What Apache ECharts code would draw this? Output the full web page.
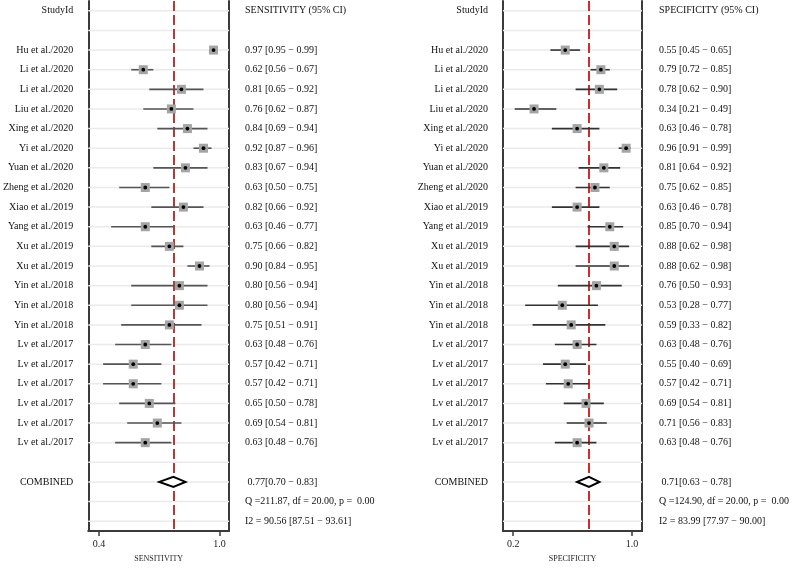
<!DOCTYPE html>
<html>
<head>
<meta charset="utf-8">
<script src="https://cdn.jsdelivr.net/npm/echarts@6/dist/echarts.min.js"></script>
<style>html,body{margin:0;padding:0;background:#fff;}#c{width:792px;height:568px;}</style>
</head>
<body>
<div id="c"></div>
<script>
const studies = ['Hu et al./2020','Li et al./2020','Li et al./2020','Liu et al./2020','Xing et al./2020','Yi et al./2020','Yuan et al./2020','Zheng et al./2020','Xiao et al./2019','Yang et al./2019','Xu et al./2019','Xu et al./2019','Yin et al./2018','Yin et al./2018','Yin et al./2018','Lv et al./2017','Lv et al./2017','Lv et al./2017','Lv et al./2017','Lv et al./2017','Lv et al./2017'];

const sensEst = [0.97,0.62,0.81,0.76,0.84,0.92,0.83,0.63,0.82,0.63,0.75,0.90,0.80,0.80,0.75,0.63,0.57,0.57,0.65,0.69,0.63];
const sensLo  = [0.95,0.56,0.65,0.62,0.69,0.87,0.67,0.50,0.66,0.46,0.66,0.84,0.56,0.56,0.51,0.48,0.42,0.42,0.50,0.54,0.48];
const sensHi  = [0.99,0.67,0.92,0.87,0.94,0.96,0.94,0.75,0.92,0.77,0.82,0.95,0.94,0.94,0.91,0.76,0.71,0.71,0.78,0.81,0.76];
const sensPooled = [0.77,0.70,0.83];
const sensStats = ['Q =211.87, df = 20.00, p =  0.00','I2 = 90.56 [87.51 \u2212 93.61]'];
const sensTicks = [0.4,1.0];
const sensRange = [0.346,1.047];

const specEst = [0.55,0.79,0.78,0.34,0.63,0.96,0.81,0.75,0.63,0.85,0.88,0.88,0.76,0.53,0.59,0.63,0.55,0.57,0.69,0.71,0.63];
const specLo  = [0.45,0.72,0.62,0.21,0.46,0.91,0.64,0.62,0.46,0.70,0.62,0.62,0.50,0.28,0.33,0.48,0.40,0.42,0.54,0.56,0.48];
const specHi  = [0.65,0.85,0.90,0.49,0.78,0.99,0.92,0.85,0.78,0.94,0.98,0.98,0.93,0.77,0.82,0.76,0.69,0.71,0.81,0.83,0.76];
const specPooled = [0.71,0.63,0.78];
const specStats = ['Q =124.90, df = 20.00, p =  0.00','I2 = 83.99 [77.97 \u2212 90.00]'];
const specTicks = [0.2,1.0];
const specRange = [0.131,1.067];

const FONT = "'Liberation Serif','Times New Roman',serif";
const f2 = v => v.toFixed(2);
const ciText = (e,l,h) => f2(e)+' ['+f2(l)+' \u2212 '+f2(h)+']';

const nRows = studies.length + 6;
const rowIdx = Array.from({length:nRows},(_,i)=>String(i));
const combinedRow = studies.length + 3;
const leftLabels = ['StudyId',''].concat(studies,['','COMBINED','','']);
function rightLabels(title, est, lo, hi, pooled, stats){
  return [title,''].concat(est.map((e,i)=>ciText(e,lo[i],hi[i])),
    ['','\u00a0'+f2(pooled[0])+'['+f2(pooled[1])+' \u2212 '+f2(pooled[2])+']', stats[0], stats[1]]);
}
const sensRight = rightLabels('SENSITIVITY (95% CI)', sensEst, sensLo, sensHi, sensPooled, sensStats);
const specRight = rightLabels('SPECIFICITY (95% CI)', specEst, specLo, specHi, specPooled, specStats);

function gridRender(params, api){
  const row = api.value(0);
  const cs = params.coordSys;
  const p = api.coord([0.5, row]);
  return {type:'line', shape:{x1:cs.x, y1:p[1], x2:cs.x+cs.width, y2:p[1]}, style:{stroke:'#eaeaea', lineWidth:1.5}};
}
function makeStudyRender(ciColor){
  return function(params, api){
    const row = api.value(1);
    const c = api.coord([api.value(0), row]);
    const l = api.coord([api.value(2), row]);
    const h = api.coord([api.value(3), row]);
    return {type:'group', children:[
      {type:'line', shape:{x1:l[0],y1:l[1],x2:h[0],y2:h[1]}, style:{stroke:ciColor, lineWidth:1.6}},
      {type:'rect', shape:{x:c[0]-4.5,y:c[1]-4.5,width:9,height:9}, style:{fill:'#a4a4a4'}},
      {type:'circle', shape:{cx:c[0],cy:c[1],r:1.9}, style:{fill:'#000'}}
    ]};
  };
}
function diamondRender(params, api){
  const row = api.value(1);
  const c = api.coord([api.value(0), row]);
  const l = api.coord([api.value(2), row]);
  const h = api.coord([api.value(3), row]);
  return {type:'polygon', shape:{points:[[l[0],c[1]],[c[0],c[1]-5],[h[0],c[1]],[c[0],c[1]+5]]},
    style:{fill:'#fff', stroke:'#000', lineWidth:2}};
}

function panel(idx, est, lo, hi, pooled, ticks, range, rLabels, name, ciColor, refColor, rMargin){
  const xAxis = {type:'value', gridIndex:idx, min:range[0], max:range[1],
    name:name, nameLocation:'middle', nameGap:24,
    nameTextStyle:{fontFamily:FONT, fontSize:8, color:'#222'},
    axisLine:{show:true, lineStyle:{color:'#3a3a3a', width:2}},
    axisTick:{show:true, customValues:ticks, length:5, lineStyle:{color:'#3a3a3a', width:1.5}},
    axisLabel:{customValues:ticks, formatter:v=>v.toFixed(1), margin:8, fontFamily:FONT, fontSize:10, color:'#222'},
    splitLine:{show:false}};
  const yLeft = {type:'category', gridIndex:idx, data:rowIdx, inverse:true, position:'left',
    axisLine:{show:true, lineStyle:{color:'#3a3a3a', width:2}}, axisTick:{show:false},
    axisLabel:{interval:0, margin:15, fontFamily:FONT, fontSize:10, color:'#111', formatter:(v,i)=>leftLabels[i]},
    splitLine:{show:false}};
  const yRight = {type:'category', gridIndex:idx, data:rowIdx, inverse:true, position:'right',
    axisLine:{show:true, lineStyle:{color:'#3a3a3a', width:2}}, axisTick:{show:false},
    axisLabel:{interval:0, margin:rMargin, fontFamily:FONT, fontSize:10, color:'#111', formatter:(v,i)=>rLabels[i]},
    splitLine:{show:false}};
  const studyData = est.map((e,i)=>[e, i+2, lo[i], hi[i]]);
  const series = [
    {type:'custom', xAxisIndex:idx, yAxisIndex:idx*2, renderItem:gridRender, data:rowIdx.map(r=>[+r]), encode:{y:0}, silent:true, z:1},
    {type:'custom', xAxisIndex:idx, yAxisIndex:idx*2, renderItem:makeStudyRender(ciColor), data:studyData, encode:{x:[0,2,3], y:1}, z:3,
      markLine:{silent:true, symbol:['none','none'], label:{show:false},
        lineStyle:{color:refColor, width:2, type:[10,4]}, data:[{xAxis:pooled[0]}], z:2}},
    {type:'custom', xAxisIndex:idx, yAxisIndex:idx*2, renderItem:diamondRender, data:[[pooled[0], combinedRow, pooled[1], pooled[2]]], encode:{x:[0,2,3], y:1}, z:4}
  ];
  return {xAxis, yAxes:[yLeft, yRight], series};
}

const p1 = panel(0, sensEst, sensLo, sensHi, sensPooled, sensTicks, sensRange, sensRight, 'SENSITIVITY', '#555', '#b53a35', 16);
const p2 = panel(1, specEst, specLo, specHi, specPooled, specTicks, specRange, specRight, 'SPECIFICITY', '#333', '#d42a2a', 17);

const chart = echarts.init(document.getElementById('c'), null, {renderer:'canvas'});
chart.setOption({
  animation:false,
  backgroundColor:'#fff',
  grid:[
    {left:85, right:792-229, top:1, bottom:32, containLabel:false},
    {left:503, right:792-646, top:1, bottom:32, containLabel:false}
  ],
  xAxis:[p1.xAxis, p2.xAxis],
  yAxis:[p1.yAxes[0], p1.yAxes[1], p2.yAxes[0], p2.yAxes[1]],
  series:p1.series.concat(p2.series)
});
</script>
</body>
</html>
